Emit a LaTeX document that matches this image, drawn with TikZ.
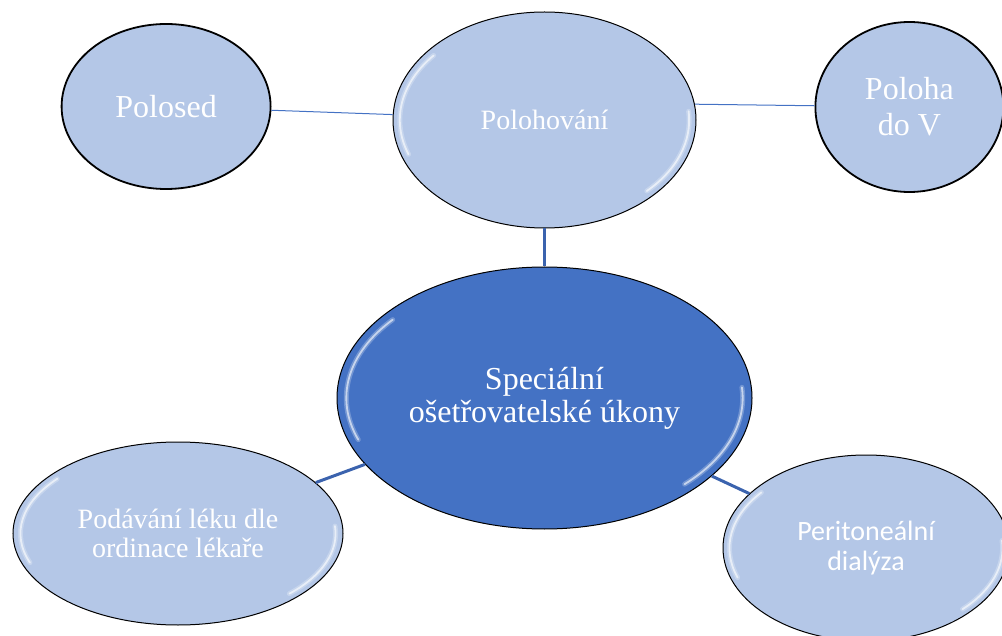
\documentclass[tikz,border=0pt]{standalone}
\usepackage{fontspec}
\setmainfont{Liberation Serif}
\newfontfamily\calibrifont{Carlito}
\usepackage{xcolor}
\usepackage{tikz}
\usetikzlibrary{calc}
\usetikzlibrary{shapes.geometric}
\usetikzlibrary{positioning}
\definecolor{lightblue}{HTML}{B4C7E7}
\definecolor{midblue}{HTML}{4472C4}
\definecolor{linkblue}{HTML}{4472C4}
\definecolor{darklink}{HTML}{3B63AE}
\tikzset{topic/.style={ellipse, draw=black, fill=lightblue, text=white, inner sep=0pt, align=center}}
\tikzset{flat/.style={topic, line width=1.8pt}}
\tikzset{glossy/.style={topic, line width=1pt, path picture={
	\foreach \s/\e/\w/\o in {140/200/5pt/0.25, 140/200/1.8pt/0.6, -45/5/5pt/0.25, -45/5/1.8pt/0.6}
		\draw[white, opacity=\o, line width=\w, line cap=round]
			let \p1=(path picture bounding box.north east), \p2=(path picture bounding box.center),
			\n1={0.955*(\x1-\x2)}, \n2={0.93*(\y1-\y2)} in
			($(\p2)+(\s:\n1 and \n2)$) arc[start angle=\s, end angle=\e, x radius=\n1, y radius=\n2];
	}}}
\tikzset{hub/.style={glossy, fill=midblue}}
\tikzset{link/.style={draw=linkblue, line width=1pt}}
\tikzset{boldlink/.style={draw=darklink, line width=3pt}}

\begin{document}
\begin{tikzpicture}[x=1pt, y=-1pt]
		\useasboundingbox (0,0) rectangle (1002,636);
		\node[hub, minimum width=415pt, minimum height=262pt, font=\fontsize{32}{33}\selectfont] (care) at (544.5,398) {Speciální\\ošetřovatelské úkony};
		\node[glossy, minimum width=303pt, minimum height=216pt, font=\fontsize{28}{30}\selectfont] (pos) [above=38pt of care] {Polohování};
		\node[flat, minimum width=209pt, minimum height=165pt, font=\fontsize{32}{36}\selectfont] (sed) [left=121pt of pos, yshift=13.5pt] {Polosed};
		\node[flat, minimum width=188pt, minimum height=170pt, font=\fontsize{32}{36}\selectfont] (vpos) [right=118pt of pos, yshift=13pt] {Poloha\\do V};
		\node[glossy, minimum width=330pt, minimum height=183pt, font=\fontsize{28}{29}\selectfont] (drug) at (178,533.5) {Podávání léku dle\\ordinace lékaře};
		\node[glossy, minimum width=286pt, minimum height=186pt, font=\calibrifont\fontsize{28}{30}\selectfont] (pd) at (866,548) {Peritoneální\\dialýza};
		
		\draw[link] (sed) -- (pos);
		\draw[link] (pos.6) -- (vpos);
		\draw[boldlink] (pos) -- (care);
		\draw[boldlink] (care) -- (drug);
		\draw[boldlink] (care) -- (pd);
	\end{tikzpicture}
\end{document}
